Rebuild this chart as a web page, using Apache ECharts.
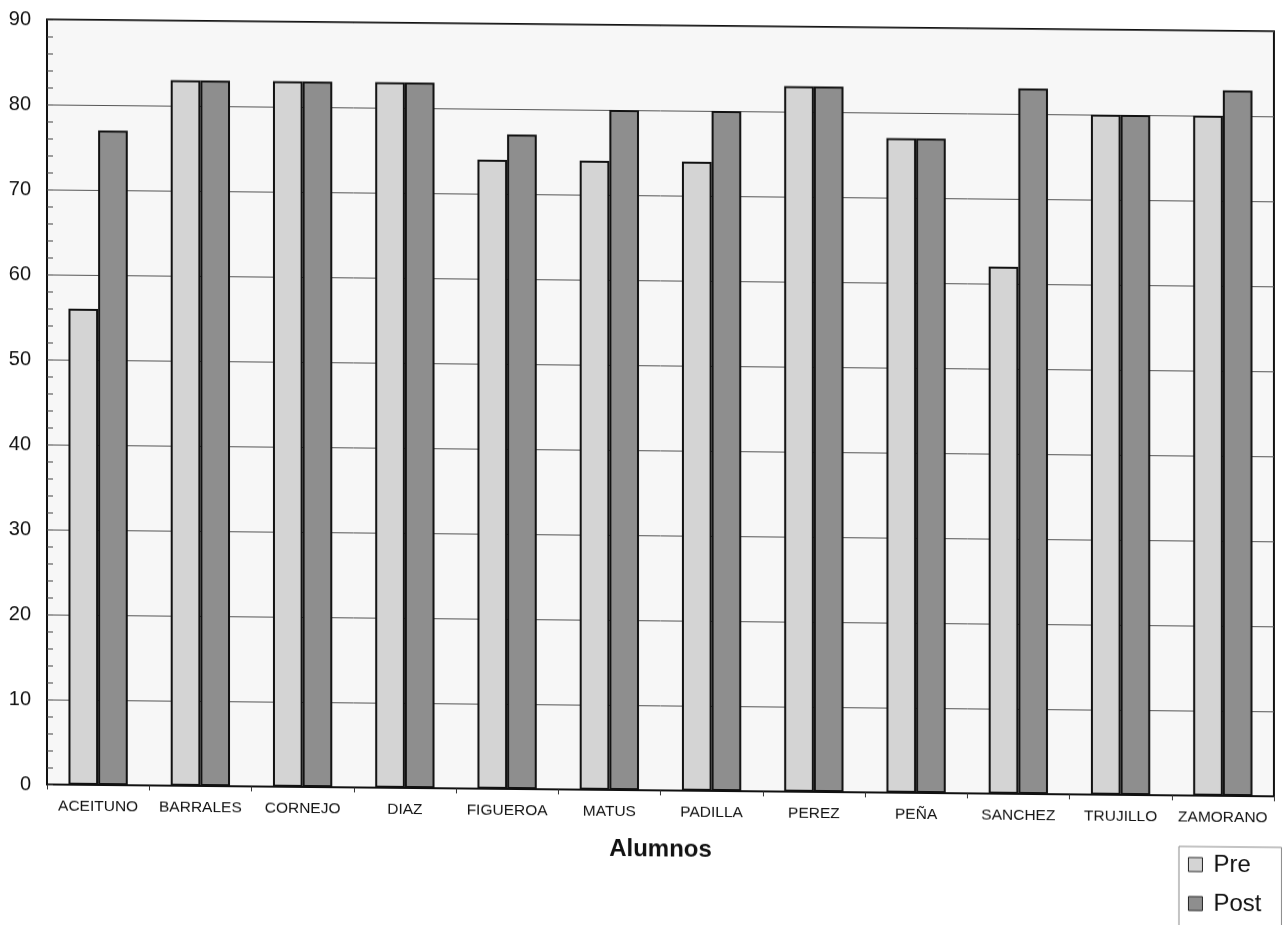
<!DOCTYPE html>
<html>
<head>
<meta charset="utf-8">
<script src="https://cdn.jsdelivr.net/npm/echarts@6/dist/echarts.min.js"></script>
<style>
  html, body { margin: 0; padding: 0; background: #ffffff; overflow: hidden; }
  #chart { position: absolute; left: 0; top: 0; width: 1283px; height: 925px;
           transform: translateY(-1px) skewY(0.555deg); transform-origin: 0 0; }
</style>
</head>
<body>
<div id="chart"></div>
<script>
const categories = ['ACEITUNO', 'BARRALES', 'CORNEJO', 'DIAZ', 'FIGUEROA', 'MATUS',
                    'PADILLA', 'PEREZ', 'PEÑA', 'SANCHEZ', 'TRUJILLO', 'ZAMORANO'];
const preValues  = [56, 83, 83, 83, 74, 74, 74, 83, 77, 62, 80, 80];
const postValues = [77, 83, 83, 83, 77, 80, 80, 83, 77, 83, 80, 83];
const seriesNames = ['Pre', 'Post'];
const xAxisTitle = 'Alumnos';
const yMin = 0, yMax = 90, yStep = 10;

const chart = echarts.init(document.getElementById('chart'), null, { renderer: 'canvas' });
const font = '"Liberation Sans", Arial, sans-serif';

chart.setOption({
  animation: false,
  backgroundColor: '#ffffff',
  grid: {
    left: 47, right: 9, top: 20, bottom: 140,
    show: true, backgroundColor: '#f7f7f7', borderColor: '#111', borderWidth: 2,
    containLabel: false
  },
  legend: {
    data: seriesNames,
    orient: 'vertical',
    left: 1179, top: 836,
    padding: [5, 20, 12, 9],
    itemWidth: 14, itemHeight: 14,
    itemGap: 13,
    icon: 'rect',
    borderColor: '#888', borderWidth: 1,
    backgroundColor: '#ffffff',
    itemStyle: { borderColor: '#222', borderWidth: 1 },
    textStyle: { fontFamily: font, fontSize: 24, color: '#111', lineHeight: 26, padding: [0, 0, 0, 6] }
  },
  xAxis: {
    type: 'category',
    data: categories,
    name: xAxisTitle,
    nameLocation: 'middle',
    nameGap: 47,
    nameTextStyle: { fontFamily: font, fontSize: 24, fontWeight: 'bold', color: '#111' },
    axisLine: { lineStyle: { color: '#111', width: 2 } },
    axisTick: { show: true, length: 5, lineStyle: { color: '#333', width: 1 } },
    axisLabel: { fontFamily: font, fontSize: 15.5, color: '#111', margin: 14, interval: 0 },
    splitLine: { show: false }
  },
  yAxis: [
    {
      type: 'value',
      min: yMin, max: yMax, interval: yStep,
      axisLine: { show: true, lineStyle: { color: '#111', width: 2 } },
      axisTick: { show: false },
      minorTick: { show: false },
      axisLabel: { fontFamily: font, fontSize: 20, color: '#111', margin: 16 },
      splitLine: { show: true, lineStyle: { color: '#555', width: 1 } }
    },
    {
      type: 'value',
      position: 'left',
      offset: -6,
      min: yMin, max: yMax, interval: yStep,
      axisLine: { show: false },
      axisTick: { show: true, length: 6, lineStyle: { color: '#444', width: 1 } },
      minorTick: { show: true, splitNumber: 5, length: 6, lineStyle: { color: '#444', width: 1 } },
      axisLabel: { show: false },
      splitLine: { show: false }
    }
  ],
  series: [
    {
      name: seriesNames[0], type: 'bar', data: preValues,
      barGap: '0%', barCategoryGap: '42%',
      itemStyle: { color: '#d4d4d4', borderColor: '#111', borderWidth: 2 }
    },
    {
      name: seriesNames[1], type: 'bar', data: postValues,
      barGap: '0%', barCategoryGap: '42%',
      itemStyle: { color: '#8e8e8e', borderColor: '#111', borderWidth: 2 }
    }
  ]
});
</script>
</body>
</html>
